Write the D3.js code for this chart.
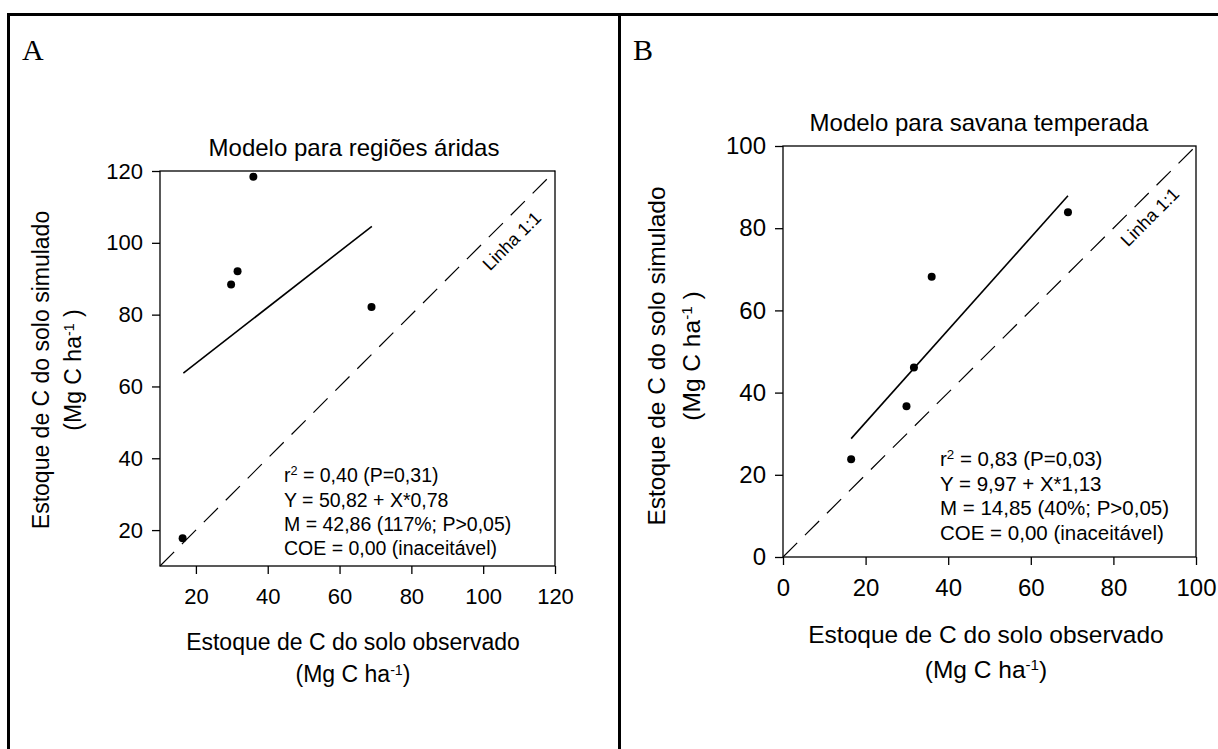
<!DOCTYPE html>
<html>
<head>
<meta charset="utf-8">
<script src="https://cdn.jsdelivr.net/npm/d3@7"></script>
<style>
  html, body { margin: 0; padding: 0; background: #fff; }
  svg { display: block; }
</style>
</head>
<body>
<script>
// ---------------- DATA ----------------
// Panel A – Modelo para regiões áridas
const observedA  = [16.3, 29.8, 31.6, 36.0, 68.9];
const simulatedA = [17.7, 88.4, 92.1, 118.4, 82.1];
const fitA_x = [16.5, 69.0];
const fitA_y = [63.7, 104.6];
const ticksA = [20, 40, 60, 80, 100, 120];
const domainA = [10, 120];
const statsA = ["= 0,40 (P=0,31)", "Y = 50,82 + X*0,78", "M = 42,86 (117%; P>0,05)", "COE = 0,00 (inaceitável)"];

// Panel B – Modelo para savana temperada
const observedB  = [16.5, 29.9, 31.7, 36.0, 69.0];
const simulatedB = [23.8, 36.7, 46.1, 68.2, 83.9];
const fitB_x = [16.5, 69.0];
const fitB_y = [28.8, 87.9];
const ticksB = [0, 20, 40, 60, 80, 100];
const domainB = [0, 100];
const statsB = ["= 0,83 (P=0,03)", "Y = 9,97 + X*1,13", "M = 14,85 (40%; P>0,05)", "COE = 0,00 (inaceitável)"];

const titles = ["Modelo para regiões áridas", "Modelo para savana temperada"];
const panelLetters = ["A", "B"];
const xTitle = "Estoque de C do solo observado";
const yTitle = "Estoque de C do solo simulado";
const lineLabel = "Linha 1:1";

// ---------------- LAYOUT ----------------
const W = 1218, H = 749;
const SANS = "'Liberation Sans', Arial, Helvetica, sans-serif";
const SERIF = "'Liberation Serif', 'Times New Roman', serif";

const svg = d3.select("body").append("svg").attr("width", W).attr("height", H);
svg.append("rect").attr("width", W).attr("height", H).attr("fill", "#fff");

// outer frame
const frame = svg.append("g").attr("stroke", "#000").attr("stroke-width", 3);
frame.append("line").attr("x1", 7).attr("x2", W).attr("y1", 14.5).attr("y2", 14.5);
frame.append("line").attr("x1", 8.5).attr("x2", 8.5).attr("y1", 13).attr("y2", H);
frame.append("line").attr("x1", 619.5).attr("x2", 619.5).attr("y1", 13).attr("y2", H);

const panels = [
  {
    letter: panelLetters[0], letterX: 22, letterY: 60,
    obs: observedA, sim: simulatedA, fx: fitA_x, fy: fitA_y,
    ticks: ticksA, domain: domainA, stats: statsA, title: titles[0],
    left: 160, right: 555, top: 171, bottom: 566,
    tickFont: 22, titleFont: 24, axTitleFont: 23, statFont: 19.5,
    titleX: 354, titleY: 156,
    xtX: 353, xtY1: 650, xtY2: 682,
    ytY: 370, ytX1: 49, ytX2: 81,
    statX: 284, statY: [482, 506.5, 531, 555],
    labX: 512, labY: 241
  },
  {
    letter: panelLetters[1], letterX: 633, letterY: 60,
    obs: observedB, sim: simulatedB, fx: fitB_x, fy: fitB_y,
    ticks: ticksB, domain: domainB, stats: statsB, title: titles[1],
    left: 783, right: 1196, top: 146, bottom: 557,
    tickFont: 24, titleFont: 24, axTitleFont: 24.5, statFont: 20.5,
    titleX: 979, titleY: 131,
    xtX: 986, xtY1: 643, xtY2: 678,
    ytY: 356, ytX1: 665, ytX2: 700,
    statX: 940, statY: [466, 490.5, 515, 539.5],
    labX: 1150, labY: 217
  }
];

function unitLabel(sel, trailingSpace) {
  sel.append("tspan").text("(Mg C ha");
  sel.append("tspan").attr("font-size", "0.62em").attr("dy", "-0.5em").text("-1");
  sel.append("tspan").attr("dy", "0.31em").text(trailingSpace ? " )" : ")");
}

panels.forEach(p => {
  const g = svg.append("g");
  const x = d3.scaleLinear().domain(p.domain).range([p.left, p.right]);
  const y = d3.scaleLinear().domain(p.domain).range([p.bottom, p.top]);

  // panel letter
  g.append("text").attr("x", p.letterX).attr("y", p.letterY)
    .attr("font-family", SERIF).attr("font-size", 30).attr("fill", "#000").text(p.letter);

  // title
  g.append("text").attr("x", p.titleX).attr("y", p.titleY).attr("text-anchor", "middle")
    .attr("font-family", SANS).attr("font-size", p.titleFont).attr("fill", "#000").text(p.title);

  // 1:1 line
  g.append("line")
    .attr("x1", x(p.domain[0])).attr("y1", y(p.domain[0]))
    .attr("x2", x(p.domain[1])).attr("y2", y(p.domain[1]))
    .attr("stroke", "#000").attr("stroke-width", 1.2).attr("stroke-dasharray", "20,11");

  // regression line
  g.append("line")
    .attr("x1", x(p.fx[0])).attr("y1", y(p.fy[0]))
    .attr("x2", x(p.fx[1])).attr("y2", y(p.fy[1]))
    .attr("stroke", "#000").attr("stroke-width", 1.6);

  // axes
  const xAxis = d3.axisBottom(x).tickValues(p.ticks).tickSize(8).tickPadding(14).tickSizeOuter(0);
  const yAxis = d3.axisLeft(y).tickValues(p.ticks).tickSize(8).tickPadding(9).tickSizeOuter(0);
  const gx = g.append("g").attr("transform", `translate(0,${p.bottom})`).call(xAxis);
  const gy = g.append("g").attr("transform", `translate(${p.left},0)`).call(yAxis);
  [gx, gy].forEach(a => {
    a.select(".domain").remove();
    a.selectAll("line").attr("stroke", "#000").attr("stroke-width", 1.3);
    a.selectAll("text").attr("font-family", SANS).attr("font-size", p.tickFont).attr("fill", "#000");
  });

  // frame box
  g.append("rect").attr("x", p.left).attr("y", p.top)
    .attr("width", p.right - p.left).attr("height", p.bottom - p.top)
    .attr("fill", "none").attr("stroke", "#000").attr("stroke-width", 1.3);

  // points
  g.selectAll("circle.pt").data(p.obs.map((v, i) => [v, p.sim[i]])).enter()
    .append("circle").attr("class", "pt")
    .attr("cx", d => x(d[0])).attr("cy", d => y(d[1])).attr("r", 4).attr("fill", "#000");

  // line label
  g.append("text").attr("transform", `translate(${p.labX},${p.labY}) rotate(-45)`)
    .attr("text-anchor", "middle").attr("dominant-baseline", "central")
    .attr("font-family", SANS).attr("font-size", 18).attr("fill", "#000").text(lineLabel);

  // stats
  p.stats.forEach((s, i) => {
    const t = g.append("text").attr("x", p.statX).attr("y", p.statY[i])
      .attr("font-family", SANS).attr("font-size", p.statFont).attr("fill", "#000");
    if (i === 0) {
      t.append("tspan").text("r");
      t.append("tspan").attr("font-size", "0.65em").attr("dy", "-0.55em").text("2");
      t.append("tspan").attr("dy", "0.36em").text(" " + s);
    } else {
      t.text(s);
    }
  });

  // x title
  g.append("text").attr("x", p.xtX).attr("y", p.xtY1).attr("text-anchor", "middle")
    .attr("font-family", SANS).attr("font-size", p.axTitleFont).attr("fill", "#000").text(xTitle);
  g.append("text").attr("x", p.xtX).attr("y", p.xtY2).attr("text-anchor", "middle")
    .attr("font-family", SANS).attr("font-size", p.axTitleFont).attr("fill", "#000")
    .call(unitLabel, false);

  // y title
  g.append("text").attr("transform", `translate(${p.ytX1},${p.ytY}) rotate(-90)`)
    .attr("text-anchor", "middle")
    .attr("font-family", SANS).attr("font-size", p.axTitleFont).attr("fill", "#000").text(yTitle);
  g.append("text").attr("transform", `translate(${p.ytX2},${p.ytY}) rotate(-90)`)
    .attr("text-anchor", "middle")
    .attr("font-family", SANS).attr("font-size", p.axTitleFont).attr("fill", "#000")
    .call(unitLabel, true);
});
</script>
</body>
</html>
